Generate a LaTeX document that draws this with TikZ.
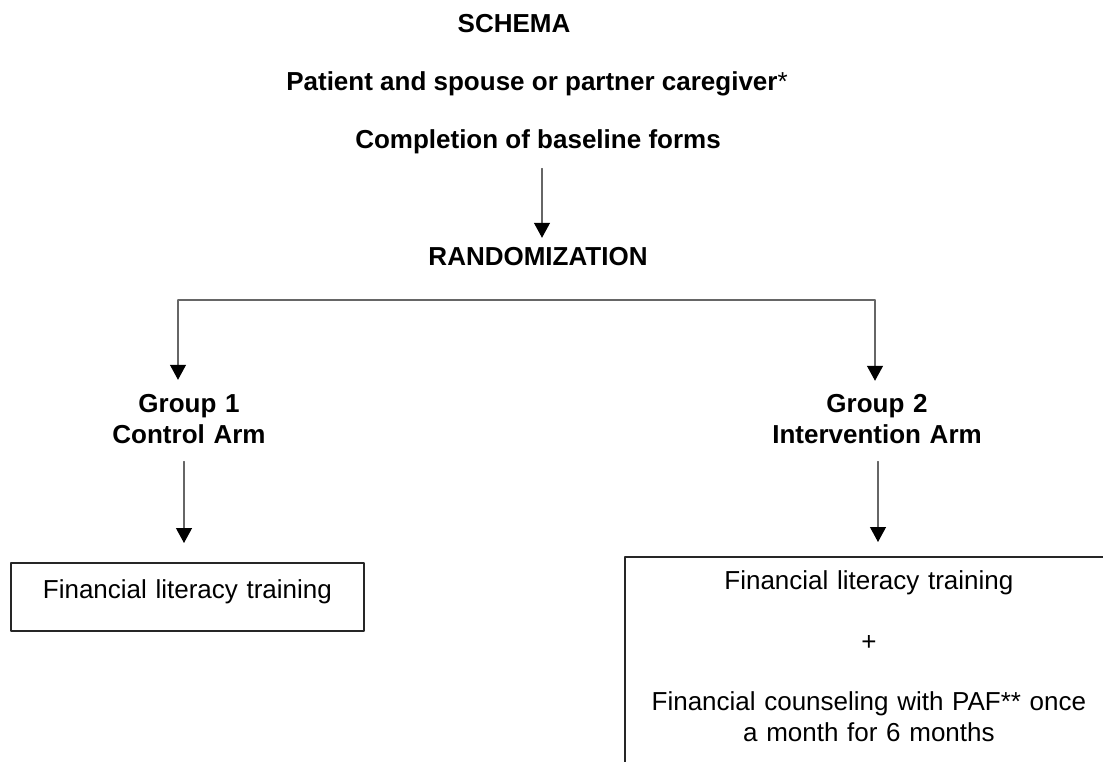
\documentclass[tikz,border=0pt]{standalone}
\usepackage{fontspec}
\setmainfont{Liberation Sans}
\usetikzlibrary{arrows.meta}

\tikzset{
  txt/.style={font=\fontsize{13}{15.5}\selectfont},
  head/.style={txt, font=\fontsize{13}{15.5}\selectfont\bfseries, anchor=base},
  grp/.style={head, align=center, text width=150pt},
  box/.style={txt, draw=black!85, line width=0.9pt, align=center, anchor=north west, inner xsep=4pt, inner ysep=0pt},
  conn/.style={draw=black!60, line width=0.6pt},
}

\begin{document}
\begin{tikzpicture}[x=0.5pt, y=-0.5pt, line cap=round, line join=round, >={Triangle[width=8pt,length=7.5pt,color=black]}]
			\useasboundingbox (0,0) rectangle (1103,761);
			\clip (0,0) rectangle (1103,761);
			% titles
			\node[head] (schema) at (514,32) {SCHEMA};
			\node[head] (pat) at (537,90) {Patient and spouse or partner caregiver{\mdseries*}};
			\node[head] (base) at (538,148) {Completion of baseline forms};
			\node[head] (rand) at (538,265) {RANDOMIZATION};
			% arms
			\node[grp] (grp1) at (189,412) {Group 1\\Control Arm};
			\node[grp] (grp2) at (877,412) {Group 2\\Intervention Arm};
			% boxes
			\node[box, text width=168.5pt, text height=18pt, text depth=16pt] (ctl) at (10,562) {Financial literacy training};
			\node[box, text width=236pt, text height=16.5pt, text depth=120pt] (int) at (624,556)
				{Financial literacy training\\[14.75pt]+\\[14.75pt]Financial counseling with PAF** once\\a month for 6 months};
			% columns
			\coordinate (col0) at (542,0);
			\coordinate (br1) at (178,300);
			\coordinate (br2) at (875,300);
			\coordinate (col1) at (184,0);
			\coordinate (col2) at (878,0);
			% arrows
			\draw[conn, ->, shorten <=4pt, shorten >=1pt] (base.south -| col0) -- (rand.north -| col0);
			\draw[conn] (br1) -- (br2);
			\draw[conn, ->, shorten >=3.5pt] (br1) -- (grp1.north -| br1);
			\draw[conn, ->, shorten >=3pt] (br2) -- (grp2.north -| br2);
			\draw[conn, ->, shorten <=5.6pt, shorten >=9.5pt] (grp1.south -| col1) -- (ctl.north -| col1);
			\draw[conn, ->, shorten <=5.6pt, shorten >=7pt] (grp2.south -| col2) -- (int.north -| col2);
		\end{tikzpicture}
\end{document}
